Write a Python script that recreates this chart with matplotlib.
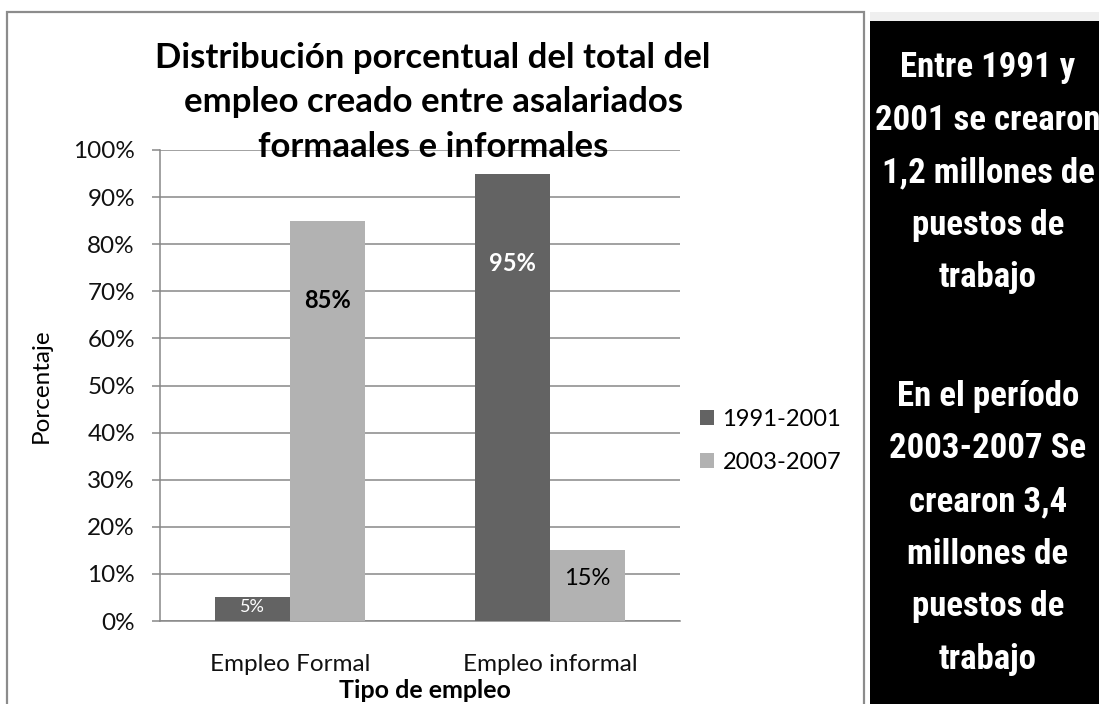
import matplotlib.pyplot as plt
from matplotlib.patches import Rectangle

# chart data
categorias = ["Empleo Formal", "Empleo informal"]
periodos = ["1991-2001", "2003-2007"]
valores_1991_2001 = [5, 95]
valores_2003_2007 = [85, 15]
y_ticks = [0, 10, 20, 30, 40, 50, 60, 70, 80, 90, 100]

titulo = "Distribución porcentual del total del\nempleo creado entre asalariados\nformaales e informales"
texto_1 = "Entre 1991 y\n2001 se crearon\n1,2 millones de\npuestos de\ntrabajo"
texto_2 = "En el período\n2003-2007 Se\ncrearon 3,4\nmillones de\npuestos de\ntrabajo"

color_oscuro = "#636363"
color_claro = "#b2b2b2"
gris = "#878787"

W, H = 1099, 704
plt.rcParams['font.family'] = ['Lato', 'DejaVu Sans']

fig = plt.figure(figsize=(W / 100, H / 100), dpi=100)
fig.patch.set_facecolor("white")


def fx(px):
    return px / W


def fy(py):
    return 1 - py / H


# outer chart frame
fig.patches.append(Rectangle((fx(7), fy(720)), fx(864) - fx(7), fy(12) - fy(720),
                             transform=fig.transFigure, fill=False,
                             edgecolor="#8c8c8c", linewidth=1.6))
# black side panel
fig.patches.append(Rectangle((fx(870), fy(21)), 1 - fx(870), fy(12) - fy(21),
                             transform=fig.transFigure, facecolor="#efefef",
                             edgecolor="none"))
fig.patches.append(Rectangle((fx(870), 0), 1 - fx(870), fy(21),
                             transform=fig.transFigure, facecolor="black",
                             edgecolor="none"))

ax = fig.add_axes([fx(160), fy(621), fx(680) - fx(160), fy(150) - fy(621)])
ax.set_facecolor("none")

x = list(range(len(categorias)))
ancho = 0.29
b1 = ax.bar([i - ancho / 2 for i in x], valores_1991_2001, width=ancho,
            color=color_oscuro, label=periodos[0], zorder=3)
b2 = ax.bar([i + ancho / 2 for i in x], valores_2003_2007, width=ancho,
            color=color_claro, label=periodos[1], zorder=3)

# value labels inside the bars
for barras, vals, col in [(b1, valores_1991_2001, "white"), (b2, valores_2003_2007, "black")]:
    for rect, v in zip(barras, vals):
        if v >= 50:
            yy, fs, fw = v * 0.8, 17, "bold"
        else:
            yy, fs, fw = v * 0.6, 17 if v >= 10 else 13, "normal"
        ax.text(rect.get_x() + rect.get_width() / 2, yy, f"{v}%",
                ha="center", va="center", color=col, fontsize=fs,
                fontweight=fw, zorder=4)

ax.set_xlim(-0.5, 1.5)
ax.set_ylim(0, 100)
ax.set_yticks(y_ticks)
ax.set_yticklabels([f"{t}%" for t in y_ticks], fontsize=17.5, color="#111111")
ax.set_xticks(x)
ax.set_xticklabels(categorias, fontsize=17.5, color="#111111")
ax.tick_params(axis="x", length=0, pad=24)
ax.tick_params(axis="y", length=6, width=1.1, color=gris, pad=12)
ax.grid(axis="y", color=gris, linewidth=1.1, zorder=0)
for s in ["top", "right"]:
    ax.spines[s].set_visible(False)
ax.spines["left"].set_color(gris)
ax.spines["bottom"].set_color(gris)
ax.spines["left"].set_linewidth(1.1)
ax.spines["bottom"].set_linewidth(1.1)

fig.text(fx(41), fy(386), "Porcentaje", rotation=90, ha="center", va="center",
         fontsize=17.5)
fig.text(fx(425), fy(691), "Tipo de empleo", ha="center", va="center",
         fontsize=18, fontweight="bold")
fig.text(fx(433), fy(42), titulo, ha="center", va="top", fontsize=25,
         fontweight="bold", linespacing=1.48, zorder=5)

ax.legend(loc="center left", bbox_to_anchor=((700 - 160) / 520, (621 - 441) / 471),
          frameon=False, fontsize=17, handlelength=0.6, handleheight=0.6,
          handletextpad=0.35, labelspacing=0.95, borderpad=0, borderaxespad=0)

# side panel text
for txt, top in [(texto_1, 51), (texto_2, 380)]:
    fig.text(fx(988), fy(top), txt, ha="center", va="top", color="white",
             fontsize=25, fontweight="bold", linespacing=1.75,
             family=["Roboto Condensed", "Open Sans Condensed", "Liberation Sans Narrow", "Roboto"],
             fontstretch="condensed")

fig.savefig("out.png", dpi=100)
